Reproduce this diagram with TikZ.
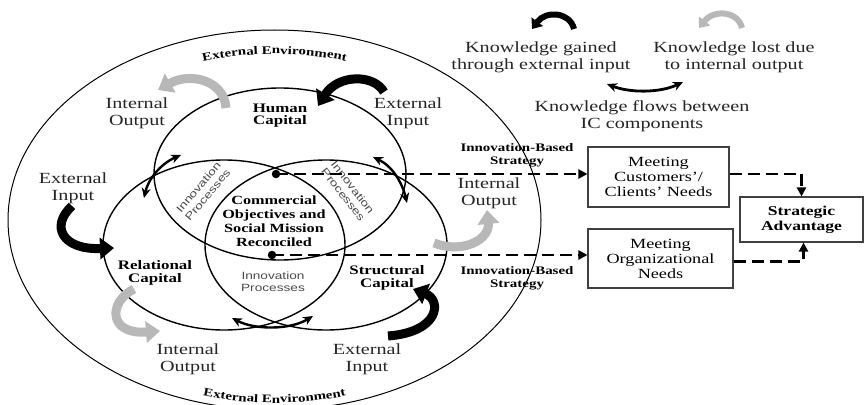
\documentclass[tikz,border=0pt]{standalone}
\usepackage{fontspec}
\setmainfont{Liberation Serif}[FakeStretch=1.3]
\newfontfamily\ipsans{Liberation Sans}[FakeStretch=1.3]
\usetikzlibrary{arrows.meta,decorations.text}
\definecolor{txtgray}{gray}{0.15}
\definecolor{outgray}{gray}{0.72}
\definecolor{innogray}{gray}{0.3}
\begin{document}
\begin{tikzpicture}[x=1pt,y=-1pt,
  venn/.style={draw=black,line width=1.4pt},
  lbl/.style={font=\fontsize{15.5}{17}\selectfont,align=center,inner sep=0pt,text=txtgray},
  caplbl/.style={font=\bfseries\fontsize{13}{12.5}\selectfont,align=center,inner sep=0pt},
  inno/.style={font=\ipsans\fontsize{10.5}{12}\selectfont,align=center,inner sep=0pt,text=innogray},
  ibs/.style={font=\bfseries\fontsize{11.5}{13}\selectfont,align=center,inner sep=0pt},
  goal/.style={draw=black!75,line width=1.1pt,font=\fontsize{14}{15}\selectfont,align=center,inner sep=0pt},
  gainarrow/.style={draw=black,line width=9pt,-{Triangle[length=14pt,width=21pt]}},
  lossarrow/.style={draw=outgray,line width=9pt,-{Triangle[length=14pt,width=21pt]}},
  gainsmall/.style={draw=black,line width=6pt,-{Triangle[length=9pt,width=14pt]}},
  losssmall/.style={draw=outgray,line width=6pt,-{Triangle[length=9pt,width=14pt]}},
  flowarrow/.style={draw=black,line width=2.4pt,{Stealth[length=10pt,width=9pt]}-{Stealth[length=10pt,width=9pt]}},
  dasharrow/.style={draw=black,line width=2.2pt,dash pattern=on 12pt off 6pt,-{Triangle[length=9pt,width=9pt]}},
  dot/.style={circle,fill=black,inner sep=0pt,minimum size=8.5pt}
]
\useasboundingbox (0,0) rectangle (864,404);
\fill[white] (0,0) rectangle (864,404);

% outer environment
\draw[line width=1pt] (274.5,220) ellipse [x radius=266.5, y radius=190];
\path[decorate,decoration={text along path,text align=center,
  text={|\bfseries\fontsize{11.5}{12}\selectfont|External Environment}}]
  (274.5,220) ++(235:240 and 166) arc[start angle=235,end angle=305,x radius=240,y radius=166];
\path[decorate,decoration={text along path,text align=center,
  text={|\bfseries\fontsize{11.5}{12}\selectfont|External Environment}}]
  (274.5,220) ++(112:254 and 183) arc[start angle=112,end angle=68,x radius=254,y radius=183];

% venn
\draw[venn] (280,174) ellipse [x radius=126, y radius=86];
\draw[venn] (224,245) ellipse [x radius=121, y radius=85];
\draw[venn] (326,245) ellipse [x radius=121, y radius=85];

% block arrows
\coordinate (a1s) at (226,108); \coordinate (a1e) at (158,90);
\draw[lossarrow] (a1s) .. controls (224,80) and (190,72) .. (a1e);
\coordinate (a2s) at (384,92); \coordinate (a2e) at (318,106);
\draw[gainarrow] (a2s) .. controls (374,74) and (338,74) .. (a2e);
\coordinate (a3s) at (72,206); \coordinate (a3e) at (114,248);
\draw[gainarrow] (a3s) .. controls (50,226) and (62,250) .. (a3e);
\coordinate (a4s) at (134,289); \coordinate (a4e) at (160,331);
\draw[lossarrow] (a4s) .. controls (108,302) and (108,335) .. (a4e);
\coordinate (a5s) at (388,336); \coordinate (a5e) at (413,289);
\draw[gainarrow] (a5s) .. controls (440,332) and (442,300) .. (a5e);
\coordinate (a6s) at (434,243); \coordinate (a6e) at (487,210);
\draw[lossarrow] (a6s) .. controls (462,254) and (490,240) .. (a6e);

% flow arrows between components
\coordinate (f1s) at (144,198); \coordinate (f1e) at (181,155);
\draw[flowarrow] (f1s) .. controls (148,180) and (160,164) .. (f1e);
\coordinate (f2s) at (373,157); \coordinate (f2e) at (407,203);
\draw[flowarrow] (f2s) .. controls (392,166) and (402,182) .. (f2e);
\coordinate (f3s) at (232,318); \coordinate (f3e) at (313,316);
\draw[flowarrow] (f3s) .. controls (255,330) and (290,330) .. (f3e);

% labels
\node[lbl] (io1) at (137,113) {Internal\\Output};
\node[lbl] (ei1) at (408,113) {External\\Input};
\node[lbl] (ei2) at (73,188) {External\\Input};
\node[lbl] (io2) at (188,359) {Internal\\Output};
\node[lbl] (ei3) at (367,359) {External\\Input};
\node[lbl] (io3) at (489,193) {Internal\\Output};

\node[caplbl] (hc) at (280,115.5) {Human\\Capital};
\node[caplbl] (rc) at (155,273) {Relational\\Capital};
\node[caplbl] (sc) at (387,278) {Structural\\Capital};
\node[font=\bfseries\fontsize{12.5}{14}\selectfont,align=center,inner sep=0pt] (core) at (274,221)
  {Commercial\\Objectives and\\Social Mission\\Reconciled};

\node[inno] (ipb) at (273,282) {Innovation\\Processes};
\node[inno,rotate=50] (ipl) at (203,191) {Innovation\\Processes};
\node[inno,rotate=-52] (ipr) at (348,191) {Innovation\\Processes};

% strategy side
\node[ibs] (ibs1) at (517,155.5) {Innovation-Based\\Strategy};
\node[ibs] (ibs2) at (517,278.5) {Innovation-Based\\Strategy};
\node[goal,minimum width=141pt,minimum height=60pt] (box1) at (658.5,177) {Meeting\\Customers’/\\Clients’ Needs};
\node[goal,minimum width=145pt,minimum height=59pt] (box2) at (660.5,258.5) {Meeting\\Organizational\\Needs};
\node[goal,font=\bfseries\fontsize{13.5}{15}\selectfont,minimum width=123pt,minimum height=45pt] (adv) at (801.5,219.5) {Strategic\\Advantage};

\node[dot] (d1) at (276,174) {};
\node[dot] (d2) at (272,255) {};
\draw[dasharrow] (d1.center) -- (d1 -| box1.west);
\draw[dasharrow] (d2.center) -- (d2 -| box2.west);
\draw[dasharrow] (box1.east |- d1) -| (adv.north);
\draw[dasharrow] ([yshift=-3pt]box2.east) -| ([xshift=2pt]adv.south);

% legend
\coordinate (l1s) at (574,29); \coordinate (l1e) at (532,29);
\draw[gainsmall] (l1s) .. controls (570,12) and (546,10) .. (l1e);
\coordinate (l2s) at (742,28); \coordinate (l2e) at (699,28);
\draw[losssmall] (l2s) .. controls (738,11) and (714,9) .. (l2e);
\coordinate (l3s) at (607,84); \coordinate (l3e) at (683,82);
\draw[flowarrow,line width=2.8pt] (l3s) .. controls (630,93) and (660,93) .. (l3e);
\node[lbl] (kg) at (541,57) {Knowledge gained\\through external input};
\node[lbl] (kl) at (734,57) {Knowledge lost due\\to internal output};
\node[lbl] (kf) at (642,116.6) {Knowledge flows between\\IC components};
\end{tikzpicture}
\end{document}
